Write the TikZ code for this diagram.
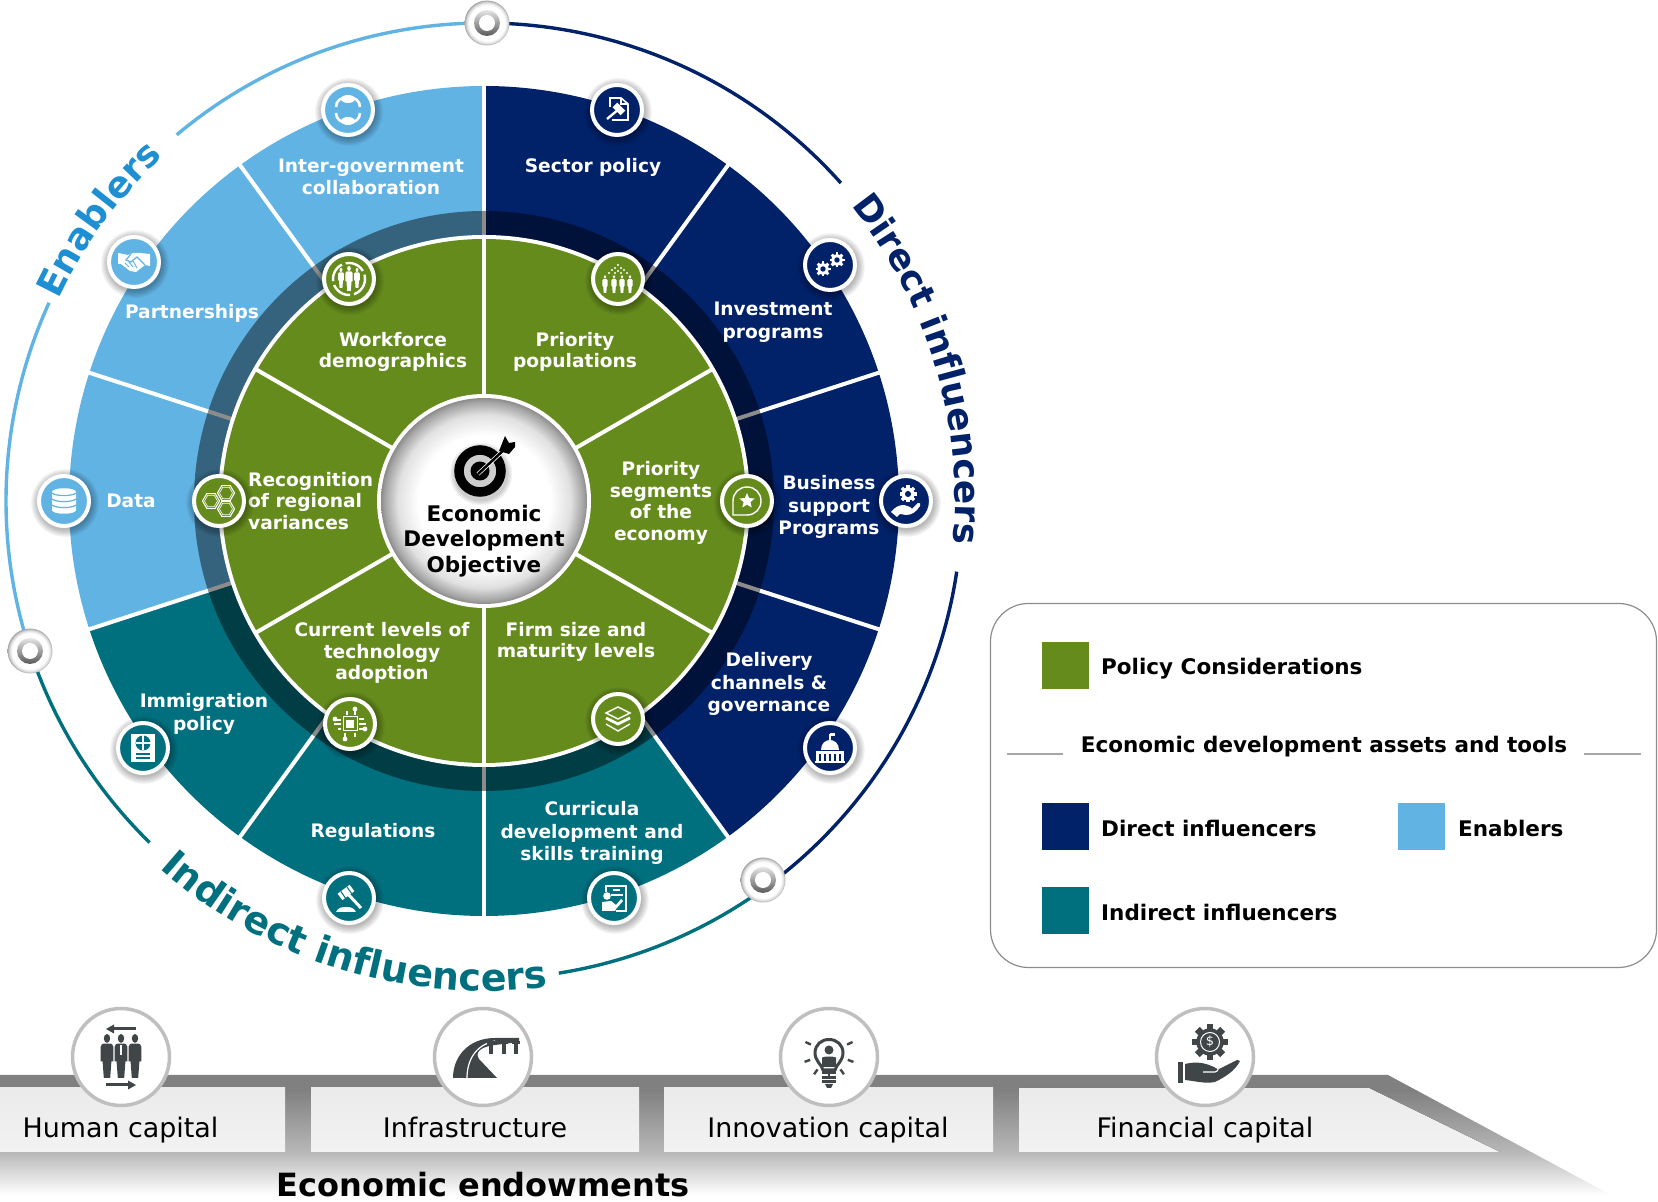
\documentclass[tikz,border=0pt]{standalone}
\usepackage{fontspec}
\setmainfont{DejaVu Sans}
\usetikzlibrary{decorations.text,calc}
\definecolor{navyc}{HTML}{012169}
\definecolor{lightc}{HTML}{61B3E4}
\definecolor{tealc}{HTML}{00707F}
\definecolor{greenc}{HTML}{658B1D}
\definecolor{enabt}{HTML}{1F8FD3}
\definecolor{icdark}{HTML}{404548}
\pgfdeclareradialshading{centresh}{\pgfpointorigin}{color(0bp)=(white);color(16bp)=(white);color(21bp)=(white!88!black);color(24bp)=(white!65!black);color(25bp)=(white!55!black);color(50bp)=(white!55!black)}
\pgfdeclareradialshading{ringsh}{\pgfpointorigin}{color(0bp)=(white);color(20bp)=(white);color(23bp)=(white!85!black);color(25bp)=(white!65!black);color(50bp)=(white!65!black)}
\pgfdeclareverticalshading{bandsh}{100bp}{color(0bp)=(white);color(25bp)=(white);color(43bp)=(white!72!black);color(69bp)=(white!50!black);color(100bp)=(white!50!black)}
\tikzset{
  ic/.style={shift={(#1)},y=-1pt},
  seglabel/.style={text=white,font=\fontsize{18.6}{22.7}\selectfont\bfseries,align=center,inner sep=0pt},
  greenlabel/.style={text=white,font=\fontsize{18.6}{21.5}\selectfont\bfseries,align=center,inner sep=0pt},
  centrelabel/.style={text=black,font=\fontsize{21.5}{25.5}\selectfont\bfseries,align=center,inner sep=0pt},
  legtext/.style={text=black,font=\fontsize{21.5}{25}\selectfont\bfseries,anchor=west,inner sep=0pt},
  basetext/.style={text=black,font=\fontsize{26.9}{30}\selectfont,inner sep=0pt,anchor=base},
  swatch/.style={minimum width=47pt,minimum height=47pt,inner sep=0pt,anchor=north west},
  outerarc/.style={line width=3.4pt},
  wl/.style={white,line width=#1},
  basebox/.style={shade,top color=white!92!black,bottom color=white!95!black},
  endow/.style={circle,fill=white,draw=white!75!black,line width=3.5pt,minimum size=97pt,inner sep=0pt},
}
\newcommand\icnode[4]{%
  \foreach \k in {1,...,6}{\fill[black,opacity=.05] (#2+1,#3+2) circle ({26+\k*1.3});}
  \node[circle,fill=#4,draw=white,line width=4pt,minimum size=50pt,inner sep=0pt] (#1) at (#2,#3) {};
}
\newcommand\ringic[3]{%
  \node[circle,shade,shading=ringsh,minimum size=45pt,inner sep=0pt] (#1) at (#2,#3) {};
  \shade[shading angle=60,top color=white!90!black,bottom color=black!65] (#1) circle (13);
  \fill[white] (#1) circle (8);
}
\newcommand\gearic[5]{\begin{scope}[shift={(#1,#2)}]
  \foreach \t in {0,45,...,315}{\draw[#4,line width=#3*.38pt] (\t:#3*.7) -- (\t:#3);}
  \fill[#4] (0,0) circle (#3*.76);
  \fill[#5] (0,0) circle (#3*.36);
\end{scope}}
\newcommand\personic[4]{\begin{scope}[shift={(#1,#2)},x=#3*.72pt,y=-#3pt]
  \fill[#4] (0,.1) circle (.1);
  \fill[#4] (-.2,.29) .. controls (-.2,.22) and (-.12,.22) .. (-.1,.22) -- (.1,.22) .. controls (.12,.22) and (.2,.22) .. (.2,.29) -- (.2,.62) -- (.14,.62) -- (.1,1) -- (-.1,1) -- (-.14,.62) -- (-.2,.62) -- cycle;
\end{scope}}
\newcommand\hexic[3]{\begin{scope}[shift={(#1,#2)}]
  \draw[white,line width=1.1pt] (0:#3)--(60:#3)--(120:#3)--(180:#3)--(240:#3)--(300:#3)--cycle;
  \draw[white,line width=.6pt] (0:#3-2)--(60:#3-2)--(120:#3-2)--(180:#3-2)--(240:#3-2)--(300:#3-2)--cycle;
\end{scope}}
\begin{document}
\begin{tikzpicture}[x=1pt,y=1pt]
\useasboundingbox (0,0) rectangle (1658,1202);
% ---------- wheel ----------
\begin{scope}[shift={(484,701)}]
  \fill[lightc] (0,0) -- (90:415) arc[start angle=90,end angle=198,radius=415] -- cycle;
  \fill[tealc] (0,0) -- (198:415) arc[start angle=198,end angle=306,radius=415] -- cycle;
  \fill[navyc] (0,0) -- (306:415) arc[start angle=306,end angle=450,radius=415] -- cycle;
  \foreach \a in {18,54,90,126,162,198,234,270,306,342}{\draw[wl=4pt] (\a:200) -- (\a:418);}
  \fill[black,opacity=.45] (0,0) circle (290);
  \fill[white] (0,0) circle (266);
  \fill[greenc] (0,0) circle (262);
  \foreach \a in {30,90,150,210,270,330}{\draw[wl=4pt] (\a:100) -- (\a:264);}
  \fill[white] (0,0) circle (107);
  \shade[shading=centresh] (0,0) circle (103);
  % outer arcs
  \draw[lightc,outerarc] (90:478) arc[start angle=90,end angle=130,radius=478];
  \draw[lightc,outerarc] (155.5:478) arc[start angle=155.5,end angle=198,radius=478];
  \draw[tealc,outerarc] (198:478) arc[start angle=198,end angle=225.6,radius=478];
  \draw[tealc,outerarc] (279:478) arc[start angle=279,end angle=306,radius=478];
  \draw[navyc,outerarc] (90:478) arc[start angle=90,end angle=41.7,radius=478];
  \draw[navyc,outerarc] (-8.5:478) arc[start angle=-8.5,end angle=-54,radius=478];
  % arc captions
  \path[decorate,decoration={text along path,text align=center,text={|\fontsize{36.5}{37}\selectfont\bfseries\color{enabt}|Enablers}}] (157.3:471) arc[start angle=157.3,end angle=130.3,radius=471];
  \path[decorate,decoration={text along path,text align=center,text={|\fontsize{36}{36}\selectfont\bfseries\color{navyc}|Direct influencers}}] (45.8:471) arc[start angle=45.8,end angle=-12.2,radius=471];
  \path[decorate,decoration={text along path,text align=center,text={|\fontsize{38}{38}\selectfont\bfseries\color{tealc}|Indirect influencers}}] (222:490) arc[start angle=222,end angle=284,radius=490];
\end{scope}
% ---------- everything else, in picture pixels (y down) ----------
\begin{scope}[yshift=1202pt,y=-1pt]
  % target
  \foreach \k in {1,...,4}{\fill[black,opacity=.05] (481,474) circle ({26+\k*1.3});}
  \draw[black,line width=9.5pt] (480,471) circle (21);
  \fill[black] (480,471) circle (9.5);
  \draw[white,line width=4pt] (478,474) -- (505,449);
  \draw[black,line width=2.5pt] (478,474) -- (507,447);
  \fill[black] (499,451) -- (505,436) -- (509,443) -- (515,442) -- (515,447) -- (509,454) -- cycle;
  % wheel labels
  \node[seglabel] (tinter) at (371,177) {Inter-government\\collaboration};
  \node[seglabel] (tsector) at (593,167) {Sector policy};
  \node[seglabel] (tinvest) at (773,322) {Investment\\programs};
  \node[seglabel] (tbus) at (829,507) {Business\\support\\Programs};
  \node[seglabel] (tdeliv) at (769,684) {Delivery\\channels \&\\governance};
  \node[seglabel] (tcurr) at (592,833) {Curricula\\development and\\skills training};
  \node[seglabel] (tregs) at (373,832) {Regulations};
  \node[seglabel] (timm) at (204,714) {Immigration\\policy};
  \node[seglabel] (tdata) at (131,501) {Data};
  \node[seglabel] (tpart) at (192,313) {Partnerships};
  \node[greenlabel] (twork) at (393,352) {Workforce\\demographics};
  \node[greenlabel] (tpop) at (575,352) {Priority\\populations};
  \node[greenlabel] (tseg) at (661,503) {Priority\\segments\\of the\\economy};
  \node[greenlabel] (tfirm) at (576,642) {Firm size and\\maturity levels};
  \node[greenlabel] (ttech) at (382,653) {Current levels of\\technology\\adoption};
  \node[greenlabel,align=left,anchor=west] (trec) at (248,501) {Recognition\\of regional\\variances};
  \node[centrelabel] (tcentre) at (484,541) {Economic\\Development\\Objective};
  % ---- outer icons ----
  \icnode{inter}{348}{110}{lightc}
  \begin{scope}[ic=inter]
    \draw[white,line width=2.6pt] (-12,-3) .. controls (-12,-9) and (-7,-13) .. (0,-13) .. controls (7,-13) and (12,-9) .. (12,-3);
    \draw[white,line width=2.6pt] (-12,3) .. controls (-12,9) and (-7,13) .. (0,13) .. controls (7,13) and (12,9) .. (12,3);
    \fill[white] (0,-11) ellipse (7 and 4);
    \fill[white] (0,11) ellipse (7 and 4);
  \end{scope}
  \icnode{partn}{134}{262}{lightc}
  \begin{scope}[ic=partn]
    \fill[white] (-16,-9)--(-6,-7)--(-1,-9)--(6,-9)--(16,-8)--(16,4)--(11,3)--(2,10)--(-4,9)--(-13,2)--(-16,2)--cycle;
    \draw[lightc,line width=1.2pt] (-3,-8)--(-8,-2)--(-3,0)--(3,-5)--(11,3);
    \draw[lightc,line width=1pt] (-9,1)--(-5,5) (-5,0)--(-1,5) (-1,-1)--(3,6);
  \end{scope}
  \icnode{datai}{64}{501}{lightc}
  \begin{scope}[ic=datai]
    \fill[white] (-12,-9) .. controls (-12,-14) and (12,-14) .. (12,-9) -- (12,9) .. controls (12,14) and (-12,14) .. (-12,9) -- cycle;
    \draw[lightc,line width=1.2pt] (-12,-8) .. controls (-8,-4.5) and (8,-4.5) .. (12,-8);
    \draw[lightc,line width=1.2pt] (-12,-2) .. controls (-8,1.5) and (8,1.5) .. (12,-2);
    \draw[lightc,line width=1.2pt] (-12,4) .. controls (-8,7.5) and (8,7.5) .. (12,4);
  \end{scope}
  \icnode{immig}{143}{748}{tealc}
  \begin{scope}[ic=immig]
    \fill[white] (-12,-14) rectangle (12,14);
    \fill[tealc] (0,-5) circle (7.5);
    \draw[white,line width=1.4pt] (-7.5,-5)--(7.5,-5) (0,-12.5)--(0,2.5);
    \draw[tealc,line width=1.4pt] (-7,6)--(7,6) (-7,10)--(7,10);
  \end{scope}
  \icnode{regs}{349}{898}{tealc}
  \begin{scope}[ic=regs]
    \draw[white,line width=3pt] (-2,-5) -- (12,10);
    \draw[white,line width=8pt] (-9,-1) -- (3,-10);
    \draw[tealc,line width=1pt] (-8,-6.5) -- (-3,1) (-2,-11) -- (3,-4);
    \fill[white] (-13,14) .. controls (-11,10) and (-8,9) .. (-3,9) .. controls (2,9) and (5,10) .. (7,14) -- cycle;
  \end{scope}
  \icnode{curr}{614}{898}{tealc}
  \begin{scope}[ic=curr]
    \draw[white,line width=1.6pt] (-8,-6) -- (-8,-12) -- (12,-12) -- (12,13) -- (2,13);
    \draw[white,line width=1.8pt] (-1,-8) -- (6,-8) (-3,-3) -- (9,-3);
    \fill[white] (-7,-2) circle (3.8);
    \fill[white] (-12,13) -- (-12,4) -- (-3,3) -- (2,7) -- (7,1) -- (9,3) -- (2,11) -- (1,13) -- cycle;
  \end{scope}
  \icnode{deliv}{830}{748}{navyc}
  \begin{scope}[ic=deliv]
    \draw[white,line width=1.4pt] (0,-7) -- (0,-14);
    \fill[white] (0,-14.5) -- (5,-14.5) -- (5,-11.5) -- (0,-11.5) -- cycle;
    \fill[white] (-9,2) .. controls (-9,-5) and (-4,-8) .. (0,-8) .. controls (4,-8) and (9,-5) .. (9,2) -- cycle;
    \fill[white] (-14,3) rectangle (14,6);
    \foreach \c in {-12.5,-7.5,-2.5,2.5,7.5,12.5}{\fill[white] (\c-1.5,6) rectangle (\c+1.5,13);}
    \fill[white] (-15,13) rectangle (15,15);
  \end{scope}
  \icnode{busin}{906}{501}{navyc}
  \begin{scope}[ic=busin]
    \gearic{2}{-7}{8.5}{white}{navyc}
    \fill[white] (-15,11) .. controls (-11,6) and (-7,4) .. (-2,4) -- (4,6) -- (6,8) -- (12,2) .. controls (14,1) and (15,3) .. (14,5) .. controls (10,11) and (6,14) .. (0,14) -- (-6,13) -- (-9,16) -- cycle;
  \end{scope}
  \icnode{inves}{830}{265}{navyc}
  \begin{scope}[ic=inves]
    \gearic{-7}{4}{7.5}{white}{navyc}
    \gearic{7}{-5}{7.5}{white}{navyc}
  \end{scope}
  \icnode{sect}{617}{110}{navyc}
  \begin{scope}[ic=sect]
    \draw[white,line width=1.7pt] (-7,-3)--(-7,-12)--(4,-12)--(11,-6)--(11,10)--(-5,10);
    \draw[white,line width=1.2pt] (4,-12)--(4,-6)--(11,-6);
    \draw[white,line width=2.4pt] (-10,9)--(2,-1);
    \draw[white,line width=6.5pt] (-2,-5)--(6,3);
  \end{scope}
  % ---- inner icons ----
  \icnode{workf}{349}{279}{greenc}
  \begin{scope}[ic=workf]
    \draw[white,line width=2.4pt,dash pattern=on 20pt off 4pt] (0,0) circle (16);
    \personic{-8}{-11}{20}{white}
    \personic{8}{-11}{20}{white}
    \personic{0}{-13}{25}{white}
  \end{scope}
  \icnode{prpop}{618}{279}{greenc}
  \begin{scope}[ic=prpop]
    \foreach \c in {-13,-4,4,12}{\personic{\c}{-4}{18}{white}}
    \foreach \p/\q in {0/-14,-3/-11,3/-11,-6/-9,0/-8,6/-9,-9/-6,-3/-6,3/-6,9/-6}{\fill[white] (\p,\q) circle (1.1);}
  \end{scope}
  \icnode{prseg}{747}{501}{greenc}
  \begin{scope}[ic=prseg]
    \draw[white,line width=1.4pt] (-14,14) -- (-14,0) .. controls (-14,-8) and (-8,-14) .. (0,-14) .. controls (8,-14) and (14,-8) .. (14,0) .. controls (14,8) and (8,14) .. (0,14) -- cycle;
    \fill[white] (0,-8)--(2.1,-2.9)--(7.6,-2.5)--(3.4,1.1)--(4.7,6.5)--(0,3.6)--(-4.7,6.5)--(-3.4,1.1)--(-7.6,-2.5)--(-2.1,-2.9)--cycle;
  \end{scope}
  \icnode{firm}{618}{719}{greenc}
  \begin{scope}[ic=firm]
    \draw[white,line width=1.5pt] (-12,-6)--(0,-12)--(12,-6)--(0,0)--cycle;
    \draw[white,line width=2.8pt] (-12,-1)--(0,5)--(12,-1);
    \draw[white,line width=1.4pt] (-12,5)--(0,12)--(12,5);
  \end{scope}
  \icnode{tech}{350}{724}{greenc}
  \begin{scope}[ic=tech]
    \draw[white,line width=1pt] (-7,-7) rectangle (7,7);
    \fill[white] (-4,-4) rectangle (4,4);
    \draw[white,line width=1.2pt] (-3,-9)--(-3,-13) (5,-9)--(5,-13) (-5,9)--(-5,13) (5,9)--(5,13) (-9,-4)--(-14,-4) (-9,0)--(-16,0) (-9,5)--(-12,5) (9,-5)--(14,-5) (9,0)--(16,0) (9,5)--(13,5);
    \foreach \p/\q in {5/-15,-5/15,-15/-5,15/5}{\fill[white] (\p,\q) circle (2.4);}
  \end{scope}
  \icnode{recog}{219}{501}{greenc}
  \begin{scope}[ic=recog]
    \hexic{7}{-8}{8.5}
    \hexic{-8}{0}{8.5}
    \hexic{7}{8}{8.5}
  \end{scope}
  % rings
  \ringic{ringt}{487}{23}
  \ringic{ringl}{30}{651}
  \ringic{ringr}{763}{880}
  % ---------- legend ----------
  \draw[white!55!black,line width=1.2pt,rounded corners=38pt] (990.5,603.5) rectangle (1656.5,967.5);
  \node[swatch,fill=greenc] (sw1) at (1042,642) {};
  \node[swatch,fill=navyc] (sw2) at (1042,803) {};
  \node[swatch,fill=lightc] (sw3) at (1398,803) {};
  \node[swatch,fill=tealc] (sw4) at (1042,887) {};
  \node[legtext] (lg1) at (1101,669) {Policy Considerations};
  \node[text=black,font=\fontsize{21.5}{25}\selectfont\bfseries,inner sep=0pt] (lg0) at (1324,747) {Economic development assets and tools};
  \node[legtext] (lg2) at (1101,828) {Direct influencers};
  \node[legtext] (lg3) at (1458,828) {Enablers};
  \node[legtext] (lg4) at (1101,912) {Indirect influencers};
  \draw[white!65!black,line width=1.2pt] (1007,754) -- (1063,754);
  \draw[white!65!black,line width=1.2pt] (1584,754) -- (1641,754);
  % ---------- base band ----------
  \shade[shading=bandsh] (0,1075) -- (1388,1075) -- (1611,1195) -- (0,1195) -- cycle;
  \fill[basebox] (0,1088) rectangle (285,1152);
  \fill[basebox] (311,1088) rectangle (639,1152);
  \fill[basebox] (664,1088) rectangle (993,1152);
  \fill[basebox] (1019,1088) -- (1369,1088) -- (1500,1152) -- (1019,1152) -- cycle;
  \node[basetext] (b1) at (120.5,1138) {Human capital};
  \node[basetext] (b2) at (475,1138) {Infrastructure};
  \node[basetext] (b3) at (828,1138) {Innovation capital};
  \node[basetext] (b4) at (1205,1138) {Financial capital};
  \node[text=black,font=\fontsize{32}{34}\selectfont\bfseries,inner sep=0pt] (endowt) at (483,1185) {Economic endowments};
  \node[endow] (e1) at (121,1057) {};
  \node[endow] (e2) at (483,1057) {};
  \node[endow] (e3) at (829,1057) {};
  \node[endow] (e4) at (1205,1057) {};
  \begin{scope}[ic=e1]
    \draw[icdark,line width=3pt] (15,-28) -- (-8,-28);
    \fill[icdark] (-15,-28) -- (-7,-32.5) -- (-7,-23.5) -- cycle;
    \draw[icdark,line width=3pt] (-15,28) -- (8,28);
    \fill[icdark] (15,28) -- (7,23.5) -- (7,32.5) -- cycle;
    \personic{-14}{-23}{44}{icdark}
    \personic{14}{-23}{44}{icdark}
    \personic{0}{-23}{44}{icdark}
    \draw[white,line width=1.5pt] (0,-12) -- (0,-2);
  \end{scope}
  \begin{scope}[ic=e2]
    \fill[icdark] (-30,21) .. controls (-30,0) and (-15,-19) .. (12,-19) -- (36,-19) -- (36,-15) -- (12,-12) .. controls (-4,-10) and (-8,-4) .. (-4,2) -- (14,21) -- cycle;
    \draw[white,line width=1.2pt] (-16,21) .. controls (-16,4) and (-8,-12) .. (12,-16);
    \foreach \c in {8,21,33}{\fill[icdark] (\c-4,-16) rectangle (\c+4,-13); \fill[icdark] (\c-1.8,-14) rectangle (\c+1.8,-3);}
  \end{scope}
  \begin{scope}[ic=e3]
    \foreach \t in {90,55,125,20,160,-25,205}{\draw[icdark,line width=2.4pt] ([shift={(0,-4)}]\t:20) -- ([shift={(0,-4)}]\t:26);}
    \draw[icdark,line width=3pt] (-6,13) .. controls (-7,8) and (-14,4) .. (-14,-4) .. controls (-14,-12) and (-8,-17.5) .. (0,-17.5) .. controls (8,-17.5) and (14,-12) .. (14,-4) .. controls (14,4) and (7,8) .. (6,13) -- cycle;
    \fill[icdark] (0,-7) circle (4.5);
    \fill[icdark] (-7,10) -- (-7,1) .. controls (-7,-1) and (7,-1) .. (7,1) -- (7,10) -- cycle;
    \foreach \q in {16,20.5,25}{\draw[icdark,line width=3pt] (-7,\q) -- (7,\q);}
    \fill[icdark] (-4,27) -- (4,27) -- (2,31) -- (-2,31) -- cycle;
  \end{scope}
  \begin{scope}[ic=e4]
    \gearic{5}{-15}{18}{icdark}{icdark}
    \draw[white,line width=1pt] (5,-15) circle (9.5);
    \node[text=white,font=\fontsize{13}{14}\selectfont,inner sep=0pt] (dollar) at (5,-15) {\$};
    \fill[icdark] (-27,5) rectangle (-22,26);
    \fill[icdark] (-20,7) .. controls (-12,5) and (-4,5) .. (4,8) -- (14,12) -- (32,3) -- (35,4) .. controls (30,14) and (20,20) .. (10,25) .. controls (0,27) and (-10,24) .. (-20,23) -- cycle;
    \draw[white,line width=1.1pt] (-2,15) -- (10,15) .. controls (14,14) and (14,11) .. (10,10);
  \end{scope}
\end{scope}
\end{tikzpicture}
\end{document}
